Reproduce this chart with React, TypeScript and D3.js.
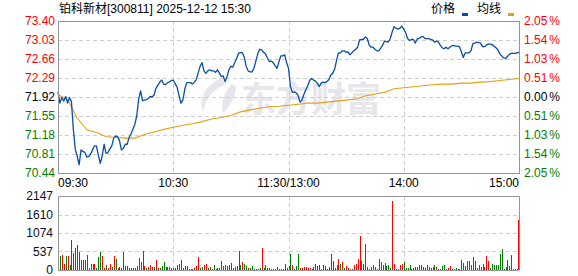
import React from 'react';
import * as d3 from 'd3';

const stockTitle = '铂科新材[300811] 2025-12-12 15:30';
const prevClose = 71.92;

const priceData = [
  72.02, 71.80, 71.91, 71.84, 71.93, 71.80, 71.91, 71.83, 71.28, 70.90, 70.77,
  70.60, 70.89, 70.86, 70.84, 70.75, 70.76, 70.81, 70.89, 70.97, 70.97,
  70.79, 70.63, 70.77, 71.00, 70.82, 70.84, 70.91, 70.97, 71.12, 71.16,
  71.15, 71.07, 70.89, 70.92, 71.00, 71.00, 71.13, 71.20, 71.29, 71.39,
  71.55, 71.88, 72.04, 71.85, 71.86, 71.87, 71.89, 71.93, 71.92, 71.96,
  72.09, 72.15, 72.21, 72.25, 72.17, 72.16, 72.20, 72.21, 72.24, 72.25,
  72.18, 72.11, 71.95, 71.80, 71.86, 72.07, 72.20, 72.20, 72.20, 72.17,
  72.21, 72.26, 72.39, 72.52, 72.59, 72.43, 72.38, 72.43, 72.45, 72.43,
  72.43, 72.40, 72.45, 72.39, 72.32, 72.33, 72.22, 72.32, 72.45, 72.52,
  72.50, 72.59, 72.67, 72.77, 72.79, 72.78, 72.69, 72.51, 72.43, 72.41,
  72.41, 72.48, 72.62, 72.76, 72.85, 72.84, 72.79, 72.76, 72.68, 72.61,
  72.62, 72.59, 72.53, 72.48, 72.60, 72.72, 72.72, 72.74, 72.59, 72.48,
  72.13, 72.01, 72.02, 72.00, 71.95, 71.82, 71.86, 71.97, 72.06, 72.14,
  72.24, 72.28, 72.25, 72.23, 72.19, 72.12, 72.19, 72.21, 72.20, 72.22,
  72.26, 72.35, 72.38, 72.46, 72.63, 72.78, 72.78, 72.82, 72.82, 72.79,
  72.80, 72.74, 72.78, 72.82, 72.85, 72.89, 73.03, 73.04, 73.04, 73.09,
  73.06, 72.93, 72.89, 72.89, 72.85, 72.82, 72.82, 72.87, 72.93, 73.01,
  73.00, 72.99, 73.06, 73.19, 73.29, 73.26, 73.24, 73.26, 73.30, 73.24,
  73.17, 73.06, 73.02, 73.04, 73.04, 72.97, 73.05, 73.06, 73.09, 73.10,
  73.06, 73.05, 73.06, 73.04, 73.03, 72.99, 73.01, 72.99, 72.93, 72.88,
  72.86, 72.89, 72.86, 72.89, 72.92, 72.92, 72.91, 72.91, 72.90, 72.80,
  72.69, 72.78, 72.78, 72.78, 72.82, 72.96, 72.97, 72.99, 72.98, 72.97,
  72.90, 72.90, 72.93, 72.95, 72.95, 72.94, 72.91, 72.88, 72.84, 72.76,
  72.72, 72.68, 72.67, 72.71, 72.75, 72.77, 72.77, 72.77, 72.78, 72.79,
];

const avgMinute = [
  0, 5, 10, 15, 20, 25, 30, 35, 40, 45, 50, 55, 60, 65, 70, 75, 80, 85, 90, 95,
  100, 105, 110, 115, 120, 125, 130, 135, 140, 145, 150, 155, 160, 165, 170, 175,
  180, 185, 190, 195, 200, 205, 210, 215, 220, 225, 230, 235, 240,
];
const avgPrice = [
  71.97, 71.87, 71.51, 71.28, 71.23, 71.15, 71.13, 71.12, 71.12, 71.19, 71.24,
  71.29, 71.33, 71.37, 71.40, 71.44, 71.49, 71.52, 71.56, 71.63, 71.67, 71.70,
  71.73, 71.74, 71.76, 71.78, 71.80, 71.80, 71.82, 71.84, 71.86, 71.88, 71.94,
  71.98, 72.01, 72.08, 72.10, 72.12, 72.14, 72.16, 72.17, 72.17, 72.19, 72.19,
  72.21, 72.22, 72.24, 72.26, 72.28,
];

const volumeData = [
  380,
  409, 438, 175, 409, 409, 146, 876, 487, 633, 730,
  536, 292, 292, 292, 438, 49, 175, 175, 175, 49,
  389, 516, 409, 49, 146, 49, 175, 97, 409, 321,
  49, 97, 68, 516, 117, 117, 68, 49, 49, 68,
  107, 360, 224, 555, 107, 49, 97, 146, 88, 97,
  292, 49, 68, 127, 243, 97, 78, 78, 49, 49,
  68, 146, 165, 292, 49, 107, 117, 29, 19, 29,
  68, 117, 389, 49, 88, 146, 175, 49, 97, 19,
  146, 19, 49, 49, 263, 117, 146, 117, 146, 204,
  49, 97, 107, 555, 146, 224, 165, 127, 49, 49,
  127, 29, 29, 29, 49, 633, 49, 146, 68, 49,
  29, 29, 29, 78, 29, 29, 29, 165, 68, 127,
  467, 146, 29, 127, 467, 68, 68, 88, 97, 68,
  49, 29, 88, 175, 127, 146, 29, 146, 117, 29,
  88, 467, 263, 68, 146, 321, 175, 234, 49, 117,
  68, 29, 29, 146, 175, 321, 974, 263, 175, 759,
  88, 29, 78, 146, 88, 29, 321, 224, 146, 204,
  107, 136, 49, 1996, 175, 29, 29, 146, 175, 234,
  49, 49, 146, 29, 49, 88, 88, 146, 146, 88,
  49, 146, 88, 68, 88, 146, 88, 29, 29, 127,
  146, 29, 49, 127, 29, 29, 58, 29, 29, 292,
  204, 127, 263, 263, 146, 380, 263, 68, 146, 88,
  175, 88, 409, 263, 68, 175, 146, 146, 146, 467,
  613, 29, 88, 292, 117, 438, 29, 29, 19, 1461,
];

// 1 = up (red), 0 = down (green)
const volumeUp = [
  0,
  0, 1, 1, 0, 1, 0, 0, 0, 0, 0,
  0, 1, 1, 0, 0, 1, 1, 1, 1, 0,
  0, 0, 1, 1, 0, 1, 1, 0, 1, 0,
  1, 0, 0, 0, 0, 1, 0, 1, 1, 1,
  1, 1, 1, 0, 1, 0, 1, 1, 1, 0,
  1, 1, 0, 0, 0, 0, 1, 1, 0, 1,
  0, 0, 0, 0, 1, 1, 1, 0, 0, 0,
  1, 1, 1, 0, 0, 1, 1, 0, 1, 0,
  0, 1, 0, 1, 1, 0, 0, 1, 1, 0,
  0, 1, 1, 1, 0, 1, 0, 0, 1, 0,
  0, 1, 1, 1, 0, 1, 0, 0, 1, 0,
  0, 0, 1, 0, 0, 0, 0, 1, 0, 1,
  0, 1, 1, 0, 0, 1, 1, 1, 1, 1,
  1, 0, 0, 0, 0, 0, 1, 1, 0, 1,
  0, 1, 0, 1, 1, 1, 0, 1, 0, 1,
  1, 0, 1, 1, 1, 1, 1, 0, 1, 1,
  0, 0, 1, 1, 0, 0, 0, 1, 1, 1,
  0, 0, 0, 1, 1, 0, 0, 1, 1, 0,
  0, 0, 0, 1, 1, 0, 1, 1, 0, 1,
  0, 0, 0, 0, 1, 0, 1, 0, 1, 0,
  0, 1, 1, 1, 0, 1, 0, 0, 1, 0,
  0, 0, 1, 0, 1, 1, 0, 1, 1, 1,
  0, 1, 1, 1, 0, 0, 0, 0, 0, 0,
  0, 1, 0, 1, 1, 1, 1, 1, 0, 1,
];

const priceTicks = [73.40, 73.03, 72.66, 72.29, 71.92, 71.55, 71.18, 70.81, 70.44];
const pctTicks = ['2.05', '1.54', '1.03', '0.51', '0.00', '0.51', '1.03', '1.54', '2.05'];
const volTicks = [2147, 1610, 1074, 537, 0];
const timeLabels = ['09:30', '10:30', '11:30/13:00', '14:00', '15:00'];
const timeMinutes = [0, 60, 120, 180, 240];
const legendNames = ['价格', '均线'];

const RED = '#ff0000';
const GREEN = '#008000';
const BLUE = '#0a4ea3';
const GOLD = '#e3a116';
const FONT = '"Liberation Sans", Arial, sans-serif';
const CJK = '"Liberation Sans", "Noto Sans CJK SC", sans-serif';

export default function App() {
  const W = 578, H = 276;
  const L = 58, R = 519, pTop = 21, pBot = 173, vTop = 196, vBot = 270;
  const x = d3.scaleLinear().domain([0, 240]).range([L, R]);
  const yP = d3.scaleLinear().domain([70.44, 73.40]).range([pBot, pTop]);
  const yV = d3.scaleLinear().domain([0, 2147]).range([vBot, vTop]);

  const priceLine = d3.line<number>().x((_, i) => x(i)).y((d) => yP(d))(priceData) || '';
  const avgLine = d3.line<number>().x((_, i) => x(avgMinute[i])).y((d) => yP(d))(avgPrice) || '';

  const tickColor = (v: number) => (Math.abs(v - prevClose) < 0.001 ? '#000' : v > prevClose ? RED : GREEN);
  const grid = '#cfcfcf';
  const barX = (i: number) => Math.min(Math.round(x(i)), R - 1);

  return (
    <svg width={W} height={H} style={{ position: 'absolute', left: 0, top: 0, background: '#fff' }}>
      <rect x={0} y={0} width={W} height={H} fill="#fff" />
      {/* watermark */}
      <g fill="#e6e6ec">
        <path d="M222,78 C206,84 198,98 203,112 C205,100 212,90 226,84 Z" />
        <path d="M232,84 C224,92 220,103 223,113 C230,106 236,96 236,86 Z" />
        <text x={241} y={112} fontFamily='"Noto Sans CJK SC", sans-serif' fontWeight={700} fontSize={35}>东方财富</text>
      </g>
      {/* price panel grid */}
      {priceTicks.slice(1, -1).map((t) => (
        <line key={'hg' + t} x1={L} x2={R} y1={Math.round(yP(t)) + 0.5} y2={Math.round(yP(t)) + 0.5} stroke={grid} strokeDasharray="4,3" />
      ))}
      {timeMinutes.slice(1, -1).map((m) => (
        <line key={'vg' + m} x1={Math.round(x(m)) + 0.5} x2={Math.round(x(m)) + 0.5} y1={pTop} y2={pBot} stroke={grid} strokeDasharray="4,3" />
      ))}
      {/* volume panel grid */}
      {volTicks.slice(1, -1).map((t) => (
        <line key={'vh' + t} x1={L} x2={R} y1={Math.round(yV(t)) + 0.5} y2={Math.round(yV(t)) + 0.5} stroke={grid} strokeDasharray="4,3" />
      ))}
      {timeMinutes.slice(1, -1).map((m) => (
        <line key={'vv' + m} x1={Math.round(x(m)) + 0.5} x2={Math.round(x(m)) + 0.5} y1={vTop} y2={vBot} stroke={grid} strokeDasharray="4,3" />
      ))}
      {/* lines */}
      <path d={avgLine} fill="none" stroke={GOLD} strokeWidth={1.1} />
      <path d={priceLine} fill="none" stroke={BLUE} strokeWidth={1.3} strokeLinejoin="round" />
      {/* volume bars */}
      {volumeData.map((v, i) => (
        <rect key={'b' + i} x={barX(i)} y={yV(v)} width={1} height={vBot - yV(v)} fill={volumeUp[i] ? RED : GREEN} shapeRendering="crispEdges" />
      ))}
      {/* borders */}
      <rect x={L + 0.5} y={pTop + 0.5} width={R - L} height={pBot - pTop} fill="none" stroke="#959595" />
      <path d={`M${L + 0.5},${vBot + 0.5}V${vTop + 0.5}H${R + 0.5}V${vBot + 0.5}`} fill="none" stroke="#959595" />
      <line x1={L} x2={R - 1} y1={vBot + 0.5} y2={vBot + 0.5} stroke="#959595" />
      {/* left price labels */}
      {priceTicks.map((t) => (
        <text key={'pl' + t} x={55} y={yP(t)} dy="0.36em" textAnchor="end" fontFamily={FONT} fontSize={12} fill={tickColor(t)}>{t.toFixed(2)}</text>
      ))}
      {/* right pct labels */}
      {pctTicks.map((p, i) => (
        <text key={'pr' + i} x={524} y={yP(priceTicks[i])} dy="0.36em" fontFamily={FONT} fontSize={12} fill={tickColor(priceTicks[i])}>
          {p}<tspan dx={2}>%</tspan>
        </text>
      ))}
      {/* time labels */}
      {timeLabels.map((t, i) => (
        <text key={'t' + i} x={i === 0 ? L : i === timeLabels.length - 1 ? R : x(timeMinutes[i])} y={187} textAnchor={i === 0 ? 'start' : i === timeLabels.length - 1 ? 'end' : 'middle'} fontFamily={FONT} fontSize={12} fill="#000">{t}</text>
      ))}
      {/* volume labels */}
      {volTicks.map((t) => (
        <text key={'vl' + t} x={53} y={yV(t)} dy="0.36em" textAnchor="end" fontFamily={FONT} fontSize={12} fill="#0a0a1e">{t}</text>
      ))}
      {/* title */}
      <text x={59} y={13} fontFamily={CJK} fontSize={12} fill="#000">{stockTitle}</text>
      {/* legend */}
      <text x={431} y={13} fontFamily={CJK} fontSize={12} fill="#000">{legendNames[0]}</text>
      <rect x={462} y={13} width={6} height={3} fill={BLUE} />
      <text x={477} y={13} fontFamily={CJK} fontSize={12} fill="#000">{legendNames[1]}</text>
      <rect x={508} y={13} width={6} height={3} fill={GOLD} />
    </svg>
  );
}
